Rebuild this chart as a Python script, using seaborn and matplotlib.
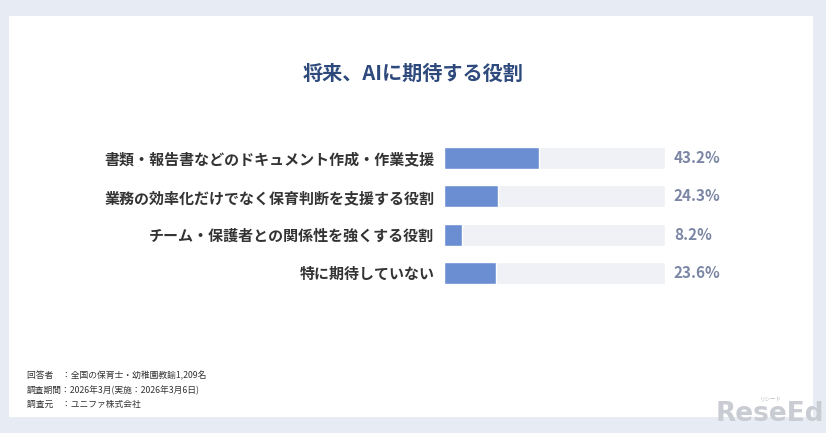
import matplotlib
matplotlib.use("Agg")
import matplotlib.pyplot as plt
import seaborn as sns
import pandas as pd
from matplotlib.patches import Rectangle

categories = [
    "書類・報告書などのドキュメント作成・作業支援",
    "業務の効率化だけでなく保育判断を支援する役割",
    "チーム・保護者との関係性を強くする役割",
    "特に期待していない",
]
values = [43.2, 24.3, 8.2, 23.6]
track = [100, 100, 100, 100]
value_labels = ["43.2%", "24.3%", "8.2%", "23.6%"]

notes = [
    "回答者　：全国の保育士・幼稚園教諭1,209名",
    "調査期間：2026年3月(実施：2026年3月6日)",
    "調査元　：ユニファ株式会社",
]

sns.set_theme(style="white")
plt.rcParams['font.family'] = ['Noto Sans CJK JP', 'DejaVu Sans']

df = pd.DataFrame({"category": categories, "value": values, "track": track})

W, H = 826, 433
fig = plt.figure(figsize=(W / 100, H / 100), dpi=100)
fig.patch.set_facecolor("#e7ebf4")
fig.patches.append(Rectangle((9 / W, 1 - 417 / H), 804 / W, 401 / H,
                             transform=fig.transFigure, facecolor="white",
                             edgecolor="none", zorder=-1))

ax = fig.add_axes([444 / W, 1 - 292 / H, 221 / W, 153 / H])
ax.set_facecolor("none")

sns.barplot(data=df, x="track", y="category", color="#eff1f6", width=0.57,
            saturation=1, ax=ax)
sns.barplot(data=df, x="value", y="category", color="#6b8ed3", width=0.57,
            saturation=1, ax=ax)

ax.set_xlim(0, 100)
ax.set_ylim(3.5, -0.5)
ax.set_xlabel("")
ax.set_ylabel("")
ax.set_xticks([])
sns.despine(ax=ax, left=True, bottom=True)
ax.tick_params(axis="y", length=0, pad=7)
for lab in ax.get_yticklabels():
    lab.set_fontsize(10.8)
    lab.set_fontweight("bold")
    lab.set_color("#333333")

for i, txt in enumerate(value_labels):
    ax.text(104, i, txt, va="center", ha="left", fontsize=11,
            fontweight="bold", color="#7c87a6")

fig.text(413 / W, 1 - 73 / H, "将来、AIに期待する役割", ha="center", va="center",
         fontsize=14.5, fontweight="bold", color="#2e4a7d")

for i, n in enumerate(notes):
    fig.text(27 / W, 1 - (376 + i * 14) / H, n, ha="left", va="center",
             fontsize=6.3, color="#333333")

fig.text(824 / W, 1 - 414 / H, "ReseEd", ha="right", va="center",
         fontsize=19, fontweight="bold", color="#c9ccd3", family="DejaVu Sans")
fig.text(771 / W, 1 - 399 / H, "リシード", ha="center", va="center",
         fontsize=4, color="#b5b9c2")

fig.savefig("out.png", dpi=100, facecolor=fig.get_facecolor())
